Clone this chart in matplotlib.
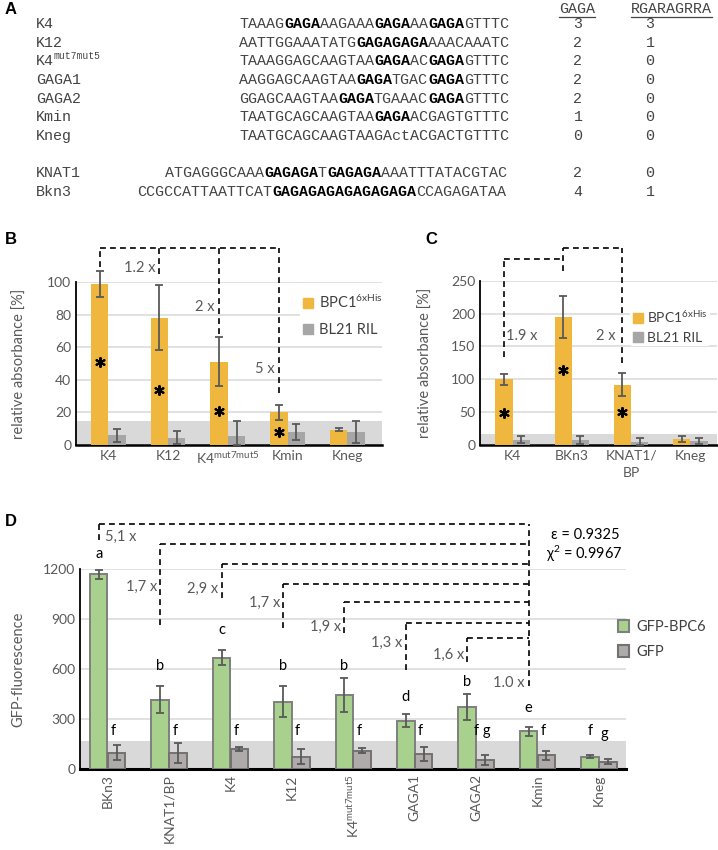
import numpy as np
import matplotlib
matplotlib.use("Agg")
import matplotlib.pyplot as plt
from matplotlib.patches import Patch
from matplotlib.lines import Line2D

plt.rcParams['font.family'] = ['Lato', 'DejaVu Sans']
plt.rcParams['mathtext.default'] = 'regular'

W, H = 718, 850

# ---- panel A: promoter fragments ([..] = bold GAGA motifs)
seq_names = ["K4", "K12", "K4", "GAGA1", "GAGA2", "Kmin", "Kneg", "KNAT1", "Bkn3"]
seq_sup = ["", "", "mut7mut5", "", "", "", "", "", ""]
sequences = [
    "TAAAG[GAGA]AAGAAA[GAGA]AA[GAGA]GTTTC",
    "AATTGGAAATATG[GAGAGAGA]AAACAAATC",
    "TAAAGGAGCAAGTAA[GAGA]AC[GAGA]GTTTC",
    "AAGGAGCAAGTAA[GAGA]TGAC[GAGA]GTTTC",
    "GGAGCAAGTAA[GAGA]TGAAAC[GAGA]GTTTC",
    "TAATGCAGCAAGTAA[GAGA]ACGAGTGTTTC",
    "TAATGCAGCAAGTAAGActACGACTGTTTC",
    "ATGAGGGCAAA[GAGAGA]T[GAGAGA]AAATTTATACGTAC",
    "CCGCCATTAATTCAT[GAGAGAGAGAGAGAGA]CCAGAGATAA",
]
gaga_counts = [3, 2, 2, 2, 2, 1, 0, 2, 4]
rgaragrra_counts = [3, 1, 0, 0, 0, 0, 0, 0, 1]

# ---- panel B: BPC1 ELISA, K4 variants
b_labels = ["K4", "K12", "K4$^{mut7mut5}$", "Kmin", "Kneg"]
b_bpc1 = [99, 78, 51, 20, 9.5]
b_bpc1_err = [8, 20, 15, 4.5, 1]
b_bl21 = [6, 4.5, 5.5, 8, 8]
b_bl21_err = [4, 4, 9.5, 5, 7]
b_star = [51, 34, 21, 8]
b_fold = ["1.2 x", "2 x", "5 x"]

# ---- panel C: BPC1 ELISA, other promoters
c_labels = ["K4", "BKn3", "KNAT1/\nBP", "Kneg"]
c_bpc1 = [100, 195, 92, 9]
c_bpc1_err = [8, 32, 17, 4]
c_bl21 = [8, 8, 5, 6]
c_bl21_err = [5, 6, 6, 5]
c_star = [48, 114, 50]
c_fold = ["1.9 x", "2 x"]

# ---- panel D: GFP fluorescence
d_labels = ["BKn3", "KNAT1/BP", "K4", "K12", "K4$^{mut7mut5}$",
            "GAGA1", "GAGA2", "Kmin", "Kneg"]
d_bpc6 = [1165, 415, 667, 405, 445, 291, 371, 227, 75]
d_bpc6_err = [25, 80, 45, 93, 100, 40, 77, 27, 8]
d_gfp = [100, 100, 120, 75, 112, 91, 56, 85, 45]
d_gfp_err = [45, 60, 12, 45, 15, 40, 32, 27, 15]
d_let_bpc6 = ["a", "b", "c", "b", "b", "d", "b", "e", "f"]
d_let_bpc6_y = [1287, 617, 832, 617, 617, 434, 524, 365, 229]
d_let_gfp = ["f", "f", "f", "f", "f", "f", "f g", "f", "g"]
d_let_gfp_y = [229, 229, 229, 229, 229, 229, 229, 229, 211]
d_fold = ["5,1 x", "1,7 x", "2,9 x", "1,7 x", "1,9 x", "1,3 x", "1,6 x", "1.0 x"]

ORANGE = "#EFB73E"
GREY = "#A6A6A6"
GREEN = "#A9D18E"
DGREY = "#AFABAB"
ERRC = "#595959"
TXT = "#595959"
BAND = "#D9D9D9"
DASH = (0, (3.5, 2.5))

fig = plt.figure(figsize=(W / 100, H / 100), dpi=100)


def fx(x):
    return x / W


def fy(y):
    return 1 - y / H


# ================= panel A =================
fig.text(fx(5), fy(9), "A", fontsize=12, fontweight="bold",
         family="Liberation Sans", va="center")
MONO = "Liberation Mono"
FS = 10.8
CW = 9.0
row_y = [24, 43, 61, 80, 99, 117, 136, 173, 192]
seq_x0 = [239] * 7 + [165, 137]
for i, name in enumerate(seq_names):
    y = row_y[i]
    fig.text(fx(36), fy(y), name, family=MONO, fontsize=FS, color="#444444", va="center")
    if seq_sup[i]:
        fig.text(fx(36 + CW * len(name)), fy(y - 5), seq_sup[i], family=MONO,
                 fontsize=7, color="#444444", va="center")
    idx = 0
    bold = False
    buf = ""
    for ch in sequences[i] + "]":
        if ch in "[]":
            if buf:
                fig.text(fx(seq_x0[i] + idx * CW), fy(y), buf, family=MONO, fontsize=FS,
                         va="center", fontweight="bold" if bold else "normal",
                         color="black" if bold else "#444444")
                idx += len(buf)
                buf = ""
            bold = ch == "["
        else:
            buf += ch
    fig.text(fx(578), fy(y), str(gaga_counts[i]), family=MONO, fontsize=FS,
             color="#444444", va="center", ha="center")
    fig.text(fx(650), fy(y), str(rgaragrra_counts[i]), family=MONO, fontsize=FS,
             color="#444444", va="center", ha="center")

for txt, xc in [("GAGA", 577), ("RGARAGRRA", 671)]:
    fig.text(fx(xc), fy(9), txt, family=MONO, fontsize=FS, color="#444444",
             va="center", ha="center")
    half = len(txt) * CW / 2
    fig.add_artist(Line2D([fx(xc - half), fx(xc + half)], [fy(17), fy(17)],
                          color="#444444", lw=0.9))


def style_axes(ax, ylab, lab_x):
    for s in ["top", "right"]:
        ax.spines[s].set_visible(False)
    ax.spines["left"].set_color("black")
    ax.spines["left"].set_linewidth(1.3)
    ax.spines["bottom"].set_color("black")
    ax.spines["bottom"].set_linewidth(1.8)
    ax.tick_params(length=0, colors=TXT, labelsize=10)
    ax.yaxis.grid(True, color=BAND, lw=1.1)
    ax.set_axisbelow(True)
    ax.set_ylabel(ylab, color=TXT, fontsize=10.5)
    ax.yaxis.set_label_coords(lab_x, 0.5)


def pair_bars(ax, a, aerr, b, berr, ca, cb, w, off, edge=None):
    x = np.arange(len(a))
    a = np.array(a, float)
    b = np.array(b, float)
    aerr = np.array(aerr, float)
    berr = np.array(berr, float)
    kw = dict(width=w, zorder=3)
    if edge:
        ax.bar(x - off, a, color=ca, edgecolor=edge, lw=1.4, **kw)
        ax.bar(x + off, b, color=cb, edgecolor="#767171", lw=1.4, **kw)
    else:
        ax.bar(x - off, a, color=ca, **kw)
        ax.bar(x + off, b, color=cb, **kw)
    for xs, v, e in [(x - off, a, aerr), (x + off, b, berr)]:
        ax.errorbar(xs, v, yerr=[np.minimum(e, v), e], fmt="none", ecolor=ERRC,
                    elinewidth=1.3, capsize=3, capthick=1.3, zorder=4, clip_on=False)
    return x


def dline(ax, xs, ys):
    ax.plot(xs, ys, color="black", lw=1.2, ls=DASH, clip_on=False, zorder=5)


def stars(ax, xs, ys):
    ax.scatter(xs, ys, marker=(6, 2, 0), s=42, color="black", lw=1.5, zorder=6)


# ================= panel B =================
axB = fig.add_axes([fx(76), fy(445), (382 - 76) / W, (445 - 282) / H])
OFF = 0.146
xb = pair_bars(axB, b_bpc1, b_bpc1_err, b_bl21, b_bl21_err, ORANGE, GREY, 0.29, OFF)
axB.axhspan(0, 15, color=BAND, zorder=1, lw=0)
axB.set_xlim(-0.54, 4.58)
axB.set_ylim(0, 100)
axB.set_yticks(range(0, 101, 20))
axB.set_xticks(xb)
axB.set_xticklabels(b_labels, fontsize=10.5)
style_axes(axB, "relative absorbance [%]", -0.16)
stars(axB, np.arange(len(b_star)) - OFF, b_star)
# fold-change brackets
dline(axB, [-OFF, -OFF], [109, 120.6])
dline(axB, [-OFF, 3 - OFF], [120.6, 120.6])
dline(axB, [1 - OFF, 1 - OFF], [105, 120.6])
dline(axB, [2 - OFF, 2 - OFF], [68, 120.6])
dline(axB, [3 - OFF, 3 - OFF], [32, 120.6])
for i, (t, yy) in enumerate(zip(b_fold, [108.4, 84.7, 46.5])):
    axB.text(i + 1 - OFF - 0.07, yy, t, ha="right", va="center", color=TXT,
             fontsize=10.5, zorder=6)
legB = axB.legend(handles=[Patch(color=ORANGE, label="BPC1$^{6xHis}$"),
                           Patch(color=GREY, label="BL21 RIL")],
                  loc="upper left", bbox_to_anchor=((300 - 76) / 306, (445 - 291) / 163),
                  frameon=True, facecolor="white", edgecolor="none", framealpha=1,
                  handlelength=0.7, handleheight=0.7, handletextpad=0.4,
                  labelspacing=0.8, fontsize=10.5, borderpad=0.2, borderaxespad=0)
for t in legB.get_texts():
    t.set_color("#404040")
fig.text(fx(5), fy(240), "B", fontsize=12, fontweight="bold",
         family="Liberation Sans", va="center")

# ================= panel C =================
axC = fig.add_axes([fx(480), fy(445), (717 - 480) / W, (445 - 280.7) / H])
xc = pair_bars(axC, c_bpc1, c_bpc1_err, c_bl21, c_bl21_err, ORANGE, GREY, 0.29, OFF)
axC.axhspan(0, 17, color=BAND, zorder=1, lw=0)
axC.set_xlim(-0.55, 3.45)
axC.set_ylim(0, 250)
axC.set_yticks(range(0, 251, 50))
axC.set_xticks(xc)
axC.set_xticklabels(c_labels, fontsize=10.5, linespacing=1.5, va="top")
style_axes(axC, "relative absorbance [%]", -0.2)
stars(axC, np.arange(len(c_star)) - OFF, c_star)
dline(axC, [-OFF, -OFF], [134, 283])
dline(axC, [-OFF, 1 - OFF], [283, 283])
dline(axC, [1 - OFF, 1 - OFF], [264, 300])
dline(axC, [1 - OFF, 2 - OFF], [300, 300])
dline(axC, [2 - OFF, 2 - OFF], [125, 300])
axC.text(-OFF + 0.04, 166, c_fold[0], ha="left", va="center", color=TXT, fontsize=10.5)
axC.text(2 - OFF - 0.12, 166, c_fold[1], ha="right", va="center", color=TXT, fontsize=10.5)
legC = axC.legend(handles=[Patch(color=ORANGE, label="BPC1$^{6xHis}$"),
                           Patch(color=GREY, label="BL21 RIL")],
                  loc="upper left", bbox_to_anchor=((630 - 480) / 237, (445 - 306) / 164.3),
                  frameon=True, facecolor="white", edgecolor="none", framealpha=1,
                  handlelength=0.7, handleheight=0.7, handletextpad=0.3,
                  labelspacing=0.5, fontsize=10, borderpad=0.2, borderaxespad=0)
for t in legC.get_texts():
    t.set_color("#404040")
fig.text(fx(425), fy(240), "C", fontsize=12, fontweight="bold",
         family="Liberation Sans", va="center")

# ================= panel D =================
axD = fig.add_axes([fx(80), fy(769.3), (626 - 80) / W, (769.3 - 568.5) / H])
OFFD = 0.145
xd = pair_bars(axD, d_bpc6, d_bpc6_err, d_gfp, d_gfp_err, GREEN, DGREY, 0.285, OFFD,
               edge="#7F7F7F")
axD.axhspan(0, 171, color=BAND, zorder=1, lw=0)
axD.set_xlim(-0.45, 8.44)
axD.set_ylim(0, 1200)
axD.set_yticks(range(0, 1201, 300))
axD.set_xticks(xd)
axD.set_xticklabels(d_labels, rotation=90, fontsize=11.5)
style_axes(axD, "GFP-fluorescence", -0.1)
axD.spines["bottom"].set_linewidth(2.2)
for i in range(len(d_labels)):
    axD.text(i - OFFD, d_let_bpc6_y[i], d_let_bpc6[i], ha="center", va="center",
             fontsize=10.5, zorder=6)
    axD.text(i + OFFD - 0.05, d_let_gfp_y[i], d_let_gfp[i], ha="center", va="center",
             fontsize=10.5, zorder=6)
# fold-change brackets, all hanging from the Kmin line
tops = [1466, 1347, 1228, 1108, 1000, 876, 783]
bots = [1370, 862, 1024, 844, 815, 594, 643]
lab_y = [1388, 1091, 1076, 996, 852, 753, 683]
xr = 7 - OFFD
dline(axD, [xr, xr], [498, 1466])
for i in range(7):
    xl = i - OFFD
    dline(axD, [xl, xl], [bots[i], tops[i]])
    dline(axD, [xl, xr], [tops[i], tops[i]])
    if i == 0:
        axD.text(xl + 0.1, lab_y[i], d_fold[i], ha="left", va="center", color=TXT,
                 fontsize=10.5)
    else:
        axD.text(xl - 0.05, lab_y[i], d_fold[i], ha="right", va="center", color=TXT,
                 fontsize=10.5)
axD.text(xr - 0.06, 514, d_fold[7], ha="right", va="center", color=TXT, fontsize=10.5)
axD.text(7.77, 1400, "ε = 0.9325", ha="center", va="center", fontsize=10.5)
axD.text(7.77, 1287, "χ$^2$ = 0.9967", ha="center", va="center", fontsize=10.5)
legD = axD.legend(handles=[Patch(facecolor=GREEN, edgecolor="#7F7F7F", lw=1.5, label="GFP-BPC6"),
                           Patch(facecolor=DGREY, edgecolor="#767171", lw=1.5, label="GFP")],
                  loc="upper left", bbox_to_anchor=((618 - 80) / 546, (769.3 - 620) / 200.8),
                  frameon=False, handlelength=0.75, handleheight=0.9, handletextpad=0.5,
                  labelspacing=0.75, fontsize=10.5, borderpad=0, borderaxespad=0)
for t in legD.get_texts():
    t.set_color("#404040")
fig.text(fx(5), fy(522), "D", fontsize=12, fontweight="bold",
         family="Liberation Sans", va="center")

fig.savefig("out.png", dpi=100)
